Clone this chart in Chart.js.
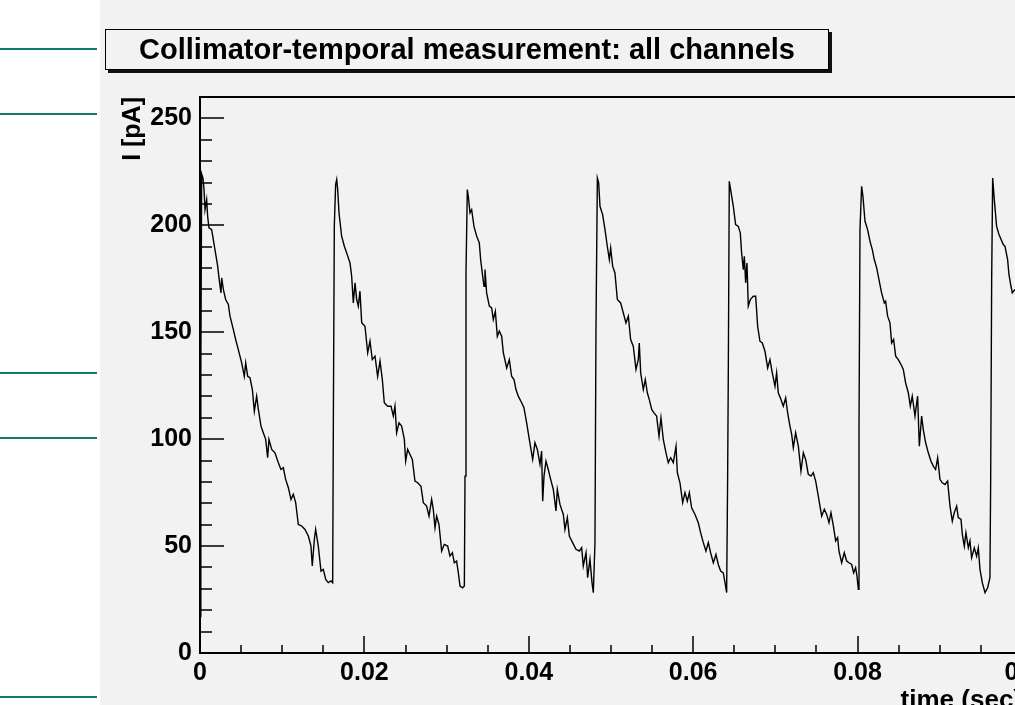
<!DOCTYPE html>
<html>
<head>
<meta charset="utf-8">
<script src="https://cdn.jsdelivr.net/npm/chart.js@4.4.1/dist/chart.umd.min.js"></script>
<style>
  html, body { margin: 0; padding: 0; width: 1015px; height: 705px; overflow: hidden; background: #ffffff; }
  #bg { position: absolute; left: 100px; top: 0; width: 1000px; height: 705px; background: #f2f2f2; }
  .teal { position: absolute; left: 0; width: 97px; height: 2px; background: #137a68; }
  #chartWrap { position: absolute; left: 0; top: 0; width: 1100px; height: 705px; }
  #titleBox {
    position: absolute; left: 105px; top: 29px; width: 722px; height: 39px;
    border: 1px solid #000; background: #f2f2f2; box-shadow: 3px 3px 0 #111;
    font: bold 29px "Liberation Sans", Arial, sans-serif; color: #000;
    display: flex; align-items: center; justify-content: center; white-space: nowrap;
  }
</style>
</head>
<body>
<div id="bg"></div>
<div class="teal" style="top:48px"></div>
<div class="teal" style="top:113px"></div>
<div class="teal" style="top:372px"></div>
<div class="teal" style="top:437px"></div>
<div class="teal" style="top:696px"></div>
<div id="chartWrap"><canvas id="c" width="1100" height="705"></canvas></div>
<div id="titleBox">Collimator-temporal measurement: all channels</div>
<script>
// ---- data ----
const chartTitle = "Collimator-temporal measurement: all channels";
const xAxisTitle = "time (sec)";
const yAxisTitle = "I [pA]";
const xTickValues = [0, 0.02, 0.04, 0.06, 0.08, 0.1];
const yTickValues = [0, 50, 100, 150, 200, 250];

// time [s]
const timeSec = [
  // pulse 1
  0, 0.0001, 0.0002, 0.00036, 0.00049, 0.00061, 0.00081, 0.00093, 0.00109, 0.00142,
  0.00162, 0.00182, 0.00215, 0.00231, 0.00255, 0.00264, 0.00284, 0.00312, 0.00345, 0.00365,
  0.00405, 0.00434, 0.00466, 0.00507, 0.00539, 0.00556, 0.0058, 0.00608, 0.00637, 0.00661,
  0.00689, 0.0071, 0.00742, 0.0077, 0.00799, 0.00823, 0.00839, 0.00872, 0.00912, 0.00953,
  0.00985, 0.01014, 0.01042, 0.01075, 0.01107, 0.01135, 0.01164, 0.01196, 0.01237, 0.01277,
  0.01318, 0.0135, 0.01366, 0.01391, 0.01407, 0.01439, 0.01472, 0.015, 0.01529, 0.01561,
  0.01594, 0.01614,
  // pulse 2
  0.01622, 0.01634, 0.0165, 0.01663, 0.01675, 0.01691, 0.01723, 0.01756, 0.01784, 0.01825,
  0.01845, 0.01865, 0.01886, 0.01906, 0.01926, 0.01946, 0.01967, 0.02007, 0.0204, 0.02068,
  0.02096, 0.02129, 0.02161, 0.0219, 0.02218, 0.02242, 0.02283, 0.02324, 0.02352, 0.02372,
  0.02392, 0.02421, 0.02453, 0.02486, 0.02502, 0.02526, 0.02555, 0.02583, 0.02615, 0.02648,
  0.02688, 0.02717, 0.02757, 0.02786, 0.02818, 0.02838, 0.02859, 0.02879, 0.02907, 0.0294,
  0.02972, 0.03013, 0.03041, 0.0307, 0.03094, 0.03122, 0.03143, 0.03163, 0.03195, 0.03216,
  // pulse 3
  0.03224, 0.03236, 0.03252, 0.03264, 0.03285, 0.03305, 0.03333, 0.03366, 0.03398, 0.03414,
  0.03439, 0.03455, 0.03467, 0.03487, 0.0352, 0.03548, 0.03568, 0.03593, 0.03617, 0.03641,
  0.0367, 0.0369, 0.03731, 0.03763, 0.03791, 0.0382, 0.03844, 0.03872, 0.03913, 0.03941,
  0.03974, 0.04006, 0.04047, 0.04075, 0.04104, 0.04136, 0.04156, 0.04169, 0.04185, 0.04209,
  0.04237, 0.04266, 0.04298, 0.04331, 0.04347, 0.04379, 0.0442, 0.0444, 0.04469, 0.04493,
  0.04533, 0.04574, 0.04615, 0.04643, 0.04663, 0.04696, 0.04716, 0.04744, 0.04769, 0.04785,
  // pulse 4
  0.04805, 0.04817, 0.04834, 0.0485, 0.04866, 0.04898, 0.04927, 0.04955, 0.0498, 0.04996,
  0.0502, 0.05048, 0.05077, 0.05117, 0.0515, 0.05182, 0.05211, 0.05239, 0.05271, 0.05304,
  0.05332, 0.05344, 0.05361, 0.05393, 0.05417, 0.05442, 0.05466, 0.05495, 0.05523, 0.05555,
  0.05584, 0.05608, 0.05636, 0.05669, 0.05697, 0.05726, 0.05758, 0.05791, 0.05807, 0.05839,
  0.05872, 0.059, 0.05928, 0.05953, 0.05981, 0.06022, 0.06062, 0.06091, 0.06123, 0.06155,
  0.06184, 0.06212, 0.06245, 0.06277, 0.06305, 0.06334, 0.06366, 0.06387, 0.06407,
  // pulse 5
  0.06419, 0.06427, 0.06439, 0.06468, 0.06488, 0.06516, 0.06549, 0.06573, 0.06589, 0.0661,
  0.06622, 0.06638, 0.06654, 0.0667, 0.06695, 0.06731, 0.0676, 0.06784, 0.06812, 0.06841,
  0.06873, 0.06906, 0.06934, 0.06962, 0.06995, 0.07015, 0.07035, 0.07068, 0.07096, 0.07125,
  0.07149, 0.07177, 0.07198, 0.07218, 0.07246, 0.07279, 0.07311, 0.0734, 0.07368, 0.074,
  0.07433, 0.07461, 0.0749, 0.07522, 0.07563, 0.07595, 0.07624, 0.07652, 0.07676, 0.07705,
  0.07733, 0.07757, 0.07773, 0.07806, 0.07838, 0.07867, 0.07895, 0.07928, 0.07952, 0.07976,
  0.07992, 0.08009,
  // pulse 6
  0.08017, 0.08029, 0.08049, 0.08065, 0.0809, 0.08122, 0.08151, 0.08179, 0.08203, 0.08232,
  0.0826, 0.08292, 0.08325, 0.08341, 0.08365, 0.08394, 0.08414, 0.08438, 0.08463, 0.08495,
  0.08528, 0.08556, 0.08584, 0.08617, 0.08641, 0.08665, 0.08698, 0.0873, 0.08751, 0.08779,
  0.08799, 0.08828, 0.0886, 0.08893, 0.08921, 0.08949, 0.08974, 0.09002, 0.0903, 0.09063,
  0.09095, 0.09124, 0.09152, 0.09176, 0.09205, 0.09225, 0.09258, 0.09274, 0.09298, 0.09318,
  0.09347, 0.09367, 0.09387, 0.0942, 0.09448, 0.09468, 0.09489, 0.09517, 0.0955, 0.09582,
  0.0961,
  // pulse 7
  0.09619, 0.09631, 0.09643, 0.09663, 0.09691, 0.0972, 0.09772, 0.09793, 0.09825, 0.09841,
  0.09866, 0.09882, 0.09914
];

// current [pA]
const currentPA = [
  // pulse 1
  17, 130, 224, 222, 216.7, 207.3, 212, 204.2, 198.8, 198,
  193.3, 188.6, 180.9, 175.4, 168.4, 175.4, 170, 165.3, 163, 157.5,
  151.3, 146.6, 141.9, 135.7, 129.4, 135.7, 129.4, 128.7, 123.2, 113.1,
  120.1, 113.9, 106.1, 103, 99.9, 91.3, 99.9, 95.2, 93.6, 89,
  85.8, 86.6, 81.2, 77.3, 71.8, 74.2, 70.3, 60.1, 59.4, 57.8,
  54.7, 50, 40.7, 53.1, 57.8, 50, 38.3, 39.1, 34.4, 32.9,
  33.7, 32.9,
  // pulse 2
  106.1, 199.5, 219, 221.4, 216.7, 205.8, 194.9, 190.2, 187.1, 182.4,
  176.2, 163.7, 173.1, 165.3, 162.2, 169.2, 154.4, 152.8, 140.4, 145.8,
  137.2, 138.8, 129.4, 136.5, 127.9, 117, 115.4, 115.4, 110.8, 115.4,
  103, 107.6, 106.1, 99.9, 89.7, 95.2, 92.8, 90.5, 80.4, 79.6,
  78, 70.3, 68.7, 64, 71.8, 67.2, 58.6, 64, 60.1, 47.7,
  50.8, 50, 45.3, 46.9, 42.2, 43, 37.5, 31.3, 30.5, 31.3,
  // pulse 3
  82.7, 177.7, 216.7, 213.6, 205.8, 207.3, 199.5, 194.9, 191.8, 184,
  176.2, 171.5, 179.3, 168.4, 162.2, 161.4, 155.9, 159.8, 148.1, 150.5,
  148.1, 140.4, 133.3, 137.2, 129.4, 127.9, 123.2, 120.1, 117, 114.7,
  107.6, 99.9, 90.5, 98.3, 95.2, 88.2, 94.4, 71, 82.7, 89.7,
  85.8, 81.2, 76.5, 66.4, 76.5, 69.5, 64.8, 57.8, 63.3, 54.7,
  51.6, 48.5, 47.7, 49.2, 40.7, 46.9, 35.2, 43.8, 32.9, 28.2,
  // pulse 4
  51.6, 149.7, 222.1, 219.8, 208.9, 205, 198, 190.2, 184, 189.4,
  180.9, 177.7, 165.3, 163.7, 159, 154.4, 157.5, 146.6, 143.5, 132.6,
  137.2, 145, 131, 123.2, 127.9, 121.7, 118.5, 113.9, 112.3, 110.8,
  101.4, 110, 99.9, 93.6, 89, 91.3, 89, 96.7, 84.3, 79.6,
  70.3, 75, 71, 75, 67.9, 64.8, 60.9, 56.2, 51.6, 47.7,
  51.6, 46.9, 42.2, 46.1, 41.4, 38.3, 37.5, 32.9, 28.2,
  // pulse 5
  82.7, 131, 220.6, 213.6, 208.9, 200.3, 199.5, 196.4, 187.1, 179.3,
  185.5, 173.1, 182.4, 162.2, 165.3, 166.8, 166.8, 152.8, 145.8, 145,
  141.1, 133.3, 137.2, 131, 124.8, 131, 121.7, 118.5, 115.4, 119.3,
  112.3, 106.1, 102.2, 96, 103, 96.7, 85.1, 93.6, 90.5, 83.5,
  82.7, 84.3, 80.4, 73.4, 64, 67.2, 64.8, 60.9, 65.6, 59.4,
  52.4, 53.9, 47.7, 42.2, 46.9, 43, 42.2, 41.4, 37.5, 39.9,
  36, 29.8,
  // pulse 6
  104.5, 198, 218.2, 213.6, 201.9, 198, 192.5, 188.6, 184, 180.1,
  174.6, 168.4, 163.7, 164.5, 157.5, 154.4, 145, 146.6, 138.8, 137.2,
  134.9, 132.6, 126.3, 121.7, 115.4, 120.1, 110.8, 120.1, 96.7, 110.8,
  104.5, 98.3, 93.6, 89.7, 87.4, 85.8, 91.3, 81.2, 79.6, 78.8,
  80.4, 68.7, 61.7, 65.6, 68.7, 63.3, 62.5, 55.5, 50, 56.2,
  49.2, 52.4, 44.6, 49.2, 45.3, 49.2, 39.1, 32.9, 28.2, 30.5,
  35.2,
  // pulse 7
  81.2, 174.6, 222.1, 212, 199.5, 195.7, 191, 190.2, 184, 177,
  171.5, 168.4, 170
];

// ---- styling constants ----
const FONT = '"Liberation Sans", Arial, Helvetica, sans-serif';
const X_MIN = 0, X_MAX = 0.1, Y_MIN = 0, Y_MAX = 260;

const points = timeSec.map((t, i) => ({ x: t, y: currentPA[i] }));

const rootAxesPlugin = {
  id: 'rootAxes',
  afterDatasetsDraw(chart) {
    const { ctx, chartArea: a } = chart;
    const xs = chart.scales.x, ys = chart.scales.y;
    ctx.save();
    ctx.strokeStyle = '#000';
    ctx.lineWidth = 1.5;
    ctx.beginPath();
    for (let k = 0; k <= Y_MAX / 10; k++) {
      const v = k * 10;
      const py = Math.round(ys.getPixelForValue(v));
      const len = (v % 50 === 0) ? 24 : 12;
      ctx.moveTo(a.left, py); ctx.lineTo(a.left + len, py);
    }
    for (let k = 0; k <= 20; k++) {
      const v = k * 0.005;
      const px = Math.round(xs.getPixelForValue(v));
      const len = (k % 4 === 0) ? 17 : 8;
      ctx.moveTo(px, a.bottom); ctx.lineTo(px, a.bottom - len);
    }
    ctx.stroke();
    ctx.lineWidth = 2;
    ctx.strokeRect(a.left, a.top, a.right - a.left, a.bottom - a.top);
    ctx.restore();
  },
  afterDraw(chart) {
    const { ctx, chartArea: a } = chart;
    ctx.save();
    ctx.fillStyle = '#000';
    ctx.font = 'bold 26px ' + FONT;
    ctx.textAlign = 'right';
    ctx.textBaseline = 'alphabetic';
    ctx.fillText(xAxisTitle, a.right, 708);
    ctx.translate(133, a.top);
    ctx.rotate(-Math.PI / 2);
    ctx.font = 'bold 25px ' + FONT;
    ctx.textAlign = 'right';
    ctx.textBaseline = 'middle';
    ctx.fillText(yAxisTitle, 0, 0);
    ctx.restore();
  }
};

new Chart(document.getElementById('c'), {
  type: 'line',
  data: {
    datasets: [{
      label: chartTitle,
      data: points,
      borderColor: '#000',
      borderWidth: 1.4,
      pointRadius: 0,
      tension: 0,
      fill: false
    }]
  },
  options: {
    responsive: false,
    animation: false,
    devicePixelRatio: 1,
    layout: { padding: { left: 0, top: 97, right: 78, bottom: 0 } },
    plugins: { legend: { display: false }, tooltip: { enabled: false }, title: { display: false } },
    scales: {
      x: {
        type: 'linear', min: X_MIN, max: X_MAX,
        grid: { display: false, drawTicks: false },
        border: { display: false },
        afterBuildTicks(scale) { scale.ticks = xTickValues.map(v => ({ value: v })); },
        afterFit(scale) { scale.height = 52; },
        ticks: {
          autoSkip: false, maxRotation: 0, minRotation: 0, padding: 5,
          color: '#000', font: { family: FONT, size: 25, weight: 'bold' },
          callback: (v) => String(Number(Number(v).toFixed(3)))
        }
      },
      y: {
        type: 'linear', min: Y_MIN, max: Y_MAX,
        grid: { display: false, drawTicks: false },
        border: { display: false },
        afterBuildTicks(scale) { scale.ticks = yTickValues.map(v => ({ value: v })); },
        afterFit(scale) { scale.width = 200; },
        ticks: {
          padding: 8,
          color: '#000', font: { family: FONT, size: 25, weight: 'bold' },
          callback: (v) => String(v)
        }
      }
    }
  },
  plugins: [rootAxesPlugin]
});
</script>
</body>
</html>
